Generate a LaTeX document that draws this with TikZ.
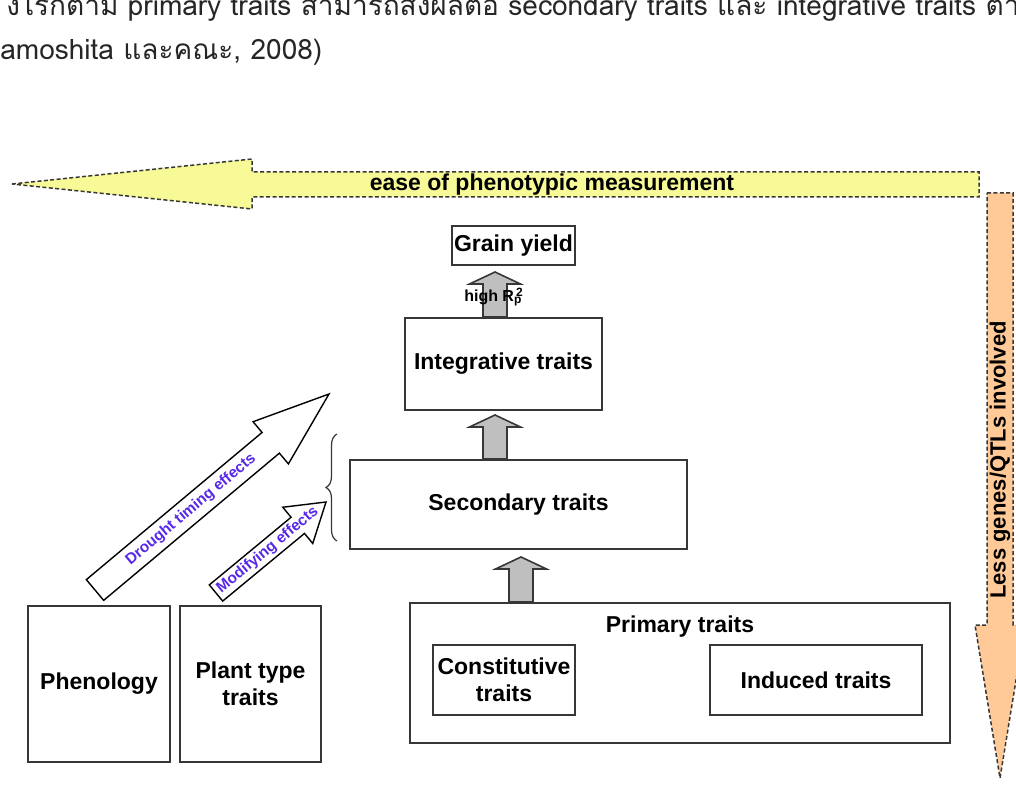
\documentclass[tikz,border=0pt]{standalone}
\usepackage{fontspec}
\setmainfont{Liberation Sans}
\newfontfamily\thaifont[Script=Thai]{Loma}
\usetikzlibrary{calc,decorations.pathreplacing}
\definecolor{easefill}{RGB}{247,250,150}
\definecolor{genefill}{RGB}{255,202,152}
\definecolor{effblue}{RGB}{88,40,232}
\definecolor{edge}{RGB}{55,55,55}
\tikzset{
  trait/.style={draw=edge, line width=1pt, inner sep=0pt, align=center,
    font=\fontsize{11.5}{13.5}\selectfont\bfseries},
  greyarrow/.style={draw=edge, line width=0.8pt, fill=gray!50},
  effarrow/.style={draw=black, line width=0.7pt, fill=white},
  scalearrow/.style={draw=edge, line width=0.75pt, dash pattern=on 2pt off 1.2pt},
  efftext/.style={text=effblue, font=\fontsize{7.7}{9}\selectfont\bfseries},
  pagetext/.style={anchor=base west, inner sep=0pt, text=black!85,
    font=\thaifont\fontsize{14}{16}\selectfont}
}
% block arrow: [style]{tail}{tip}{half shaft}{half head}{head length}
\newcommand{\fatarrow}[6][]{%
  \path[#1] let \p1=(#2), \p2=(#3),
    \n1={atan2(\y2-\y1,\x2-\x1)}, \n2={veclen(\x2-\x1,\y2-\y1)} in
    ($(\p1)+(\n1+90:#4)$) -- ($(\p1)+(\n1:\n2-#6)+(\n1+90:#4)$)
    -- ($(\p1)+(\n1:\n2-#6)+(\n1+90:#5)$) -- (\p2)
    -- ($(\p1)+(\n1:\n2-#6)+(\n1-90:#5)$) -- ($(\p1)+(\n1:\n2-#6)+(\n1-90:#4)$)
    -- ($(\p1)+(\n1-90:#4)$) -- cycle;}

\begin{document}
\begin{tikzpicture}[x=0.5pt,y=0.5pt]
\useasboundingbox (0,0) rectangle (1016,-785);
\clip (0,0) rectangle (1016,-785);

% text of the page above the figure
\node[pagetext] (line1) at (6,-16) {งไรก็ตาม primary traits สามารถส่งผลต่อ secondary traits และ integrative traits ตาม};
\node[pagetext] (line2) at (0,-60) {amoshita และคณะ, 2008)};

% the two scale arrows
\draw[scalearrow, fill=easefill] (12,-184) -- (252,-159) -- (252,-172) -- (979,-172)
  -- (979,-197) -- (252,-197) -- (252,-209) -- cycle;
\node[font=\fontsize{11.5}{13}\selectfont\bfseries] (ease) at (552,-185) {ease of phenotypic measurement};
\draw[scalearrow, fill=genefill] (987,-193) -- (1013,-193) -- (1013,-625) -- (1025,-625)
  -- (1000,-778) -- (975,-625) -- (987,-625) -- cycle;
\node[rotate=90, font=\fontsize{11}{13}\selectfont\bfseries] (genes) at (1000,-460) {Less genes/QTLs involved};

% trait boxes
\node[trait, minimum width=61.5pt, minimum height=19.5pt] (gy) at (513.5,-245.5) {Grain yield};
\node[trait, minimum width=98.5pt, minimum height=46pt] (integ) at (503.5,-364) {Integrative traits};
\node[trait, minimum width=168.5pt, minimum height=44.5pt] (sec) at (518.5,-504.5) {Secondary traits};
\node[trait, minimum width=270pt, minimum height=70pt] (prim) at (680,-673) {};
\node[font=\fontsize{11.5}{13}\selectfont\bfseries] (primlab) at (680,-627) {Primary traits};
\node[trait, minimum width=71pt, minimum height=35pt] (const) at (504,-680) {Constitutive\\traits};
\node[trait, minimum width=106pt, minimum height=35pt] (induced) at (816,-680) {Induced traits};
\node[trait, minimum width=71pt, minimum height=78pt] (phen) at (99,-684) {Phenology};
\node[trait, minimum width=70.5pt, minimum height=78pt] (plant) at (250.5,-684) {Plant type\\traits};

% grey arrows between the levels
\fatarrow[greyarrow]{495,0 |- integ.north}{$(495,0 |- gy.south)+(0,-6)$}{6pt}{12.75pt}{6pt}
\fatarrow[greyarrow]{495,0 |- sec.north}{$(495,0 |- integ.south)+(0,-4)$}{6pt}{12.75pt}{6pt}
\fatarrow[greyarrow]{521,0 |- prim.north}{$(521,0 |- sec.south)+(0,-7)$}{6pt}{12.75pt}{6pt}
\node[font=\fontsize{8}{9}\selectfont\bfseries] (hr) at (494,-297) {high R\rlap{\textsubscript{p}}\textsuperscript{\,2}};

% effect arrows
\coordinate (dtail) at (95,-590);
\coordinate (dtip) at (329,-394);
\coordinate (mtail) at (216,-593);
\coordinate (mtip) at (326,-502);
\fatarrow[effarrow]{dtail}{dtip}{6.75pt}{13.75pt}{38pt}
\fatarrow[effarrow]{mtail}{mtip}{5.25pt}{11.75pt}{18.3pt}
\path (dtail) -- (dtip) node[efftext, sloped, pos=0.41] (drought) {Drought timing effects};
\path (mtail) -- (mtip) node[efftext, sloped, pos=0.47] (modif) {Modifying effects};

% brace next to the secondary traits
\draw[edge, line width=0.6pt, decorate, decoration={brace, amplitude=5.5pt}]
  ($(sec.south west)+(-12,9)$) -- ($(sec.north west)+(-12,25)$);
\end{tikzpicture}
\end{document}
